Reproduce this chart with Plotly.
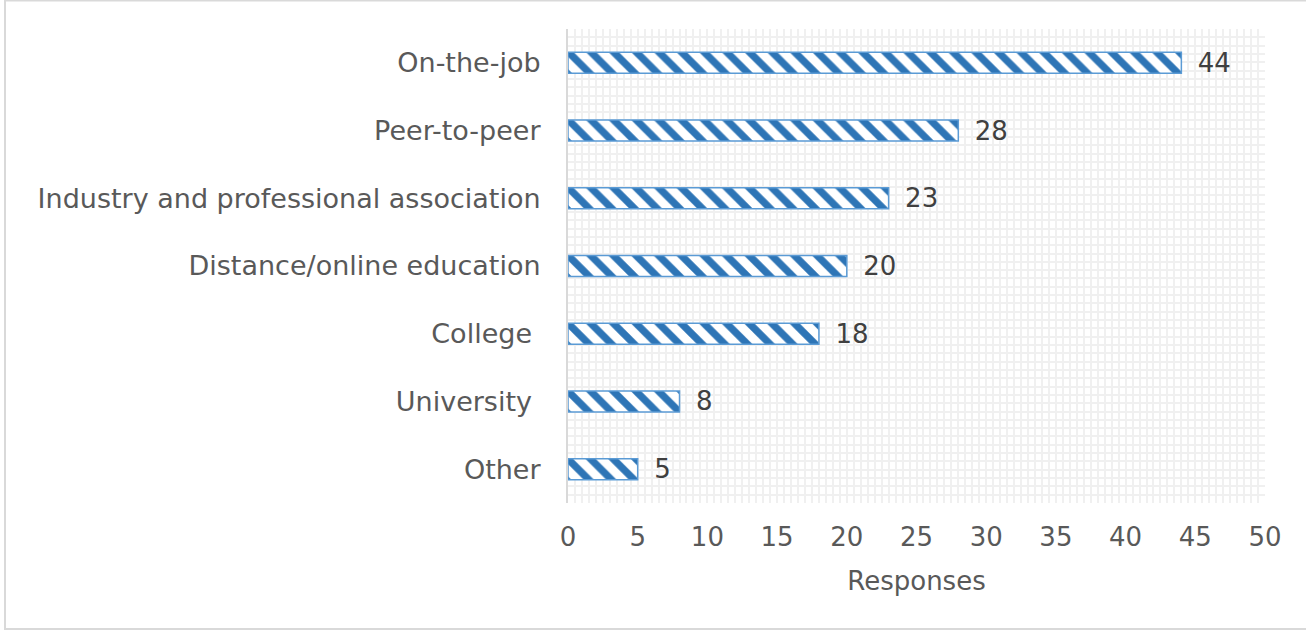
import plotly.graph_objects as go

categories = ["Other", "University\u00a0", "College\u00a0", "Distance/online education",
              "Industry and professional association", "Peer-to-peer", "On-the-job"]
values = [5, 8, 18, 20, 23, 28, 44]
x_ticks = [0, 5, 10, 15, 20, 25, 30, 35, 40, 45, 50]

W, H = 1306, 635
L, R, T, B = 568, 41, 29, 132
pw, ph = W - L - R, H - T - B

FONT = "DejaVu Sans"
FS_Y = 27
FS = 26
fig = go.Figure()
fig.add_trace(go.Bar(
    y=list(range(len(categories))), x=values, orientation="h", width=0.31,
    marker=dict(color="white", line=dict(color="#5b9bd5", width=1.5),
                pattern=dict(shape="\\", fgcolor="#2e75b6", bgcolor="white", fgopacity=1,
                             size=16, solidity=0.45)),
    text=["\u00a0\u2009" + str(v) for v in values], textposition="outside", cliponaxis=False,
    constraintext="none",
    textfont=dict(family=FONT, size=FS, color="#404040"),
))

grid = "#f0f0f0"
fig.update_layout(
    width=W, height=H, margin=dict(l=L, r=R, t=T, b=B),
    paper_bgcolor="white", plot_bgcolor="white", showlegend=False,
    font=dict(family=FONT, color="#595959"),
    xaxis=dict(range=[0, 50], tickvals=x_ticks, ticktext=[str(v) for v in x_ticks],
               showgrid=True, gridcolor=grid, gridwidth=2,
               minor=dict(dtick=0.5, tick0=0, showgrid=True, gridcolor=grid, gridwidth=2),
               zeroline=False, showline=False, ticks="", ticklabelstandoff=16,
               tickfont=dict(family=FONT, size=FS, color="#595959"),
               title=dict(text="Responses", font=dict(family=FONT, size=FS, color="#595959"), standoff=20)),
    yaxis=dict(range=[-0.5, 6.5], tickvals=list(range(len(categories))), ticktext=categories,
               showgrid=False,
               minor=dict(dtick=7/57, tick0=-0.5, showgrid=True, gridcolor=grid, gridwidth=2),
               zeroline=False, showline=True, linecolor="#d9d9d9", linewidth=2, ticks="",
               ticklabelstandoff=20,
               tickfont=dict(family=FONT, size=FS_Y, color="#595959")),
    shapes=[dict(type="rect", xref="paper", yref="paper",
                 x0=(5 - L) / pw, x1=(W + 5 - L) / pw,
                 y0=(H - B - 629) / ph, y1=(H - B - 0.5) / ph,
                 line=dict(color="#d9d9d9", width=2), fillcolor="rgba(0,0,0,0)", layer="below")],
)
fig.write_html("out.html", config={"displayModeBar": False},
               post_script="document.body.style.margin='0px';")
